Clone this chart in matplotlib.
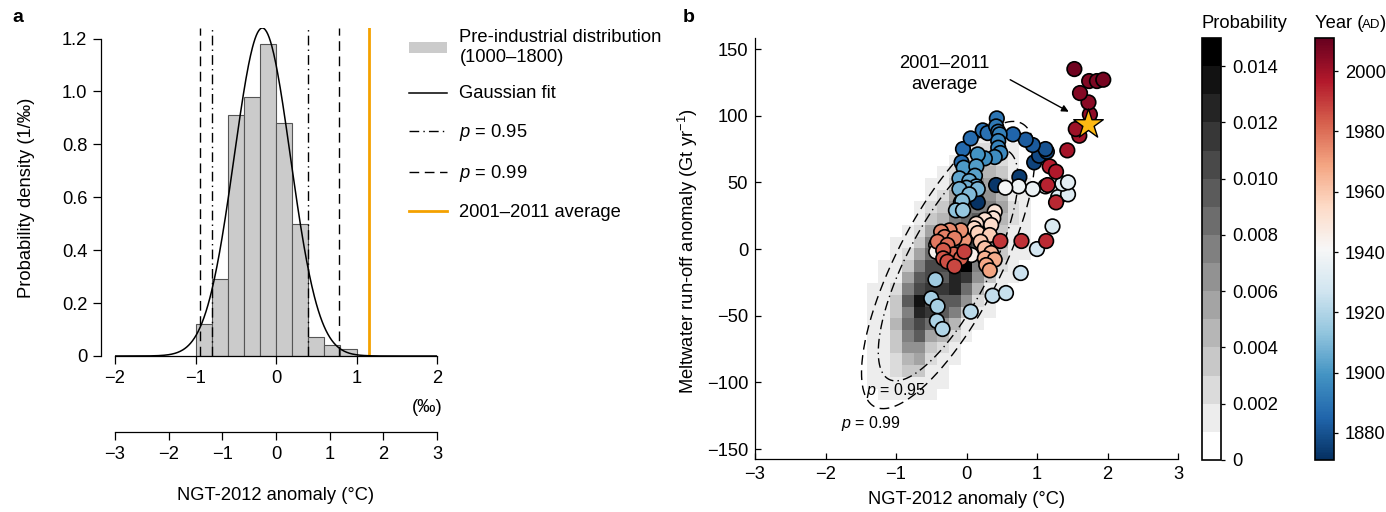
import numpy as np
import matplotlib.pyplot as plt
from matplotlib.colors import ListedColormap, BoundaryNorm, Normalize
from matplotlib.cm import ScalarMappable
from matplotlib.lines import Line2D
from matplotlib.patches import Patch

plt.rcParams['font.family'] = ['Liberation Sans', 'DejaVu Sans']
plt.rcParams['font.size'] = 13.2
plt.rcParams['mathtext.fontset'] = 'custom'
plt.rcParams['mathtext.rm'] = 'Liberation Sans'
plt.rcParams['mathtext.it'] = 'Liberation Sans:italic'
plt.rcParams['axes.linewidth'] = 0.9

# ---- panel a: pre-industrial distribution ----
hist_edges = [-1.0, -0.8, -0.6, -0.4, -0.2, 0.0, 0.2, 0.4, 0.6, 0.8, 1.0]
hist_density = [0.12, 0.29, 0.91, 0.98, 1.18, 0.88, 0.50, 0.07, 0.04, 0.025]
fit_peak, fit_mu, fit_sigma = 1.24, -0.17, 0.35
p95_lines = [-0.80, 0.40]
p99_lines = [-0.94, 0.78]
avg_2001_2011 = 1.15

# ---- panel b: NGT-2012 vs meltwater run-off ----
ngt = [0.16, 0.42, 0.75, 0.96, 1.03, 1.14, 1.12, 0.94, 0.84, 0.66,
       -0.05, -0.07, 0.06, 0.23, 0.30, 0.43, 0.42, 0.45, 0.47, 0.45,
       0.45, 0.48, 0.40, 0.26, 0.16, -0.04, 0.14, 0.12, -0.10, 0.04,
       0.14, 0.00, -0.10, 0.16, 0.04, -0.08, -0.06, -0.15, -0.05,
       -0.44, -0.50, -0.41, -0.42, -0.34, 0.06, 0.37, 0.56, 0.77, 1.00,
       1.22, 1.30, 1.44, 1.36, 1.44, 1.12, 0.94, 0.74, 0.55,
       -0.43, -0.43, 0.07, 0.02,
       0.40, 0.38, 0.26, 0.14, 0.35, 0.11, 0.16, 0.33, 0.20, 0.26,
       0.35, 0.26, 0.40, 0.28, 0.33,
       -0.03, -0.08, -0.24, -0.36, -0.31, -0.17, -0.41, -0.27, -0.18, -0.08,
       -0.33, -0.33, -0.27, -0.17, -0.03,
       0.48, 0.78, 1.13, 1.27, 1.15, 1.18, 1.27, 1.43,
       1.60, 1.55, 1.75, 1.73, 1.61, 1.74, 1.85, 1.94, 1.53]
runoff = [35, 48, 54, 65, 70, 73, 75, 78, 82, 86,
          75, 65, 83, 89, 87, 98, 92, 88, 86, 81,
          76, 72, 69, 68, 71, 61, 62, 55, 53, 51,
          47, 46, 45, 45, 41, 35, 36, 29, 29,
          -23, -37, -43, -54, -60, -47, -35, -33, -18, 0,
          17, 39, 41, 49, 50, 47, 45, 47, 46,
          3, -2, -4.5, 12,
          28, 23, 22, 19, 18, 15.5, 12, 10.5, 5.5, 0.5,
          -3, -7, -8, -12, -16,
          7, 14, 14, 13, 9, 8, 5.5, 3, -4, -7,
          -1, -7, -9.5, -13, -2,
          6, 6, 6, 35, 48, 62, 58, 74,
          85, 90, 101, 110, 117, 126, 126, 127, 135]
year = [1872, 1873, 1874, 1876, 1878, 1879, 1880, 1882, 1883, 1885,
        1886, 1886, 1887, 1888, 1889, 1890, 1891, 1892, 1893, 1894,
        1895, 1896, 1897, 1898, 1899, 1901, 1902, 1903, 1904, 1905,
        1906, 1907, 1908, 1909, 1910, 1911, 1912, 1913, 1914,
        1916, 1917, 1918, 1919, 1920, 1922, 1924, 1925, 1926, 1928,
        1930, 1931, 1932, 1933, 1934, 1936, 1937, 1938, 1940,
        1943, 1944, 1945, 1946,
        1950, 1951, 1952, 1953, 1954, 1955, 1957, 1958, 1960, 1962,
        1964, 1966, 1967, 1968, 1969,
        1972, 1973, 1974, 1975, 1976, 1977, 1978, 1980, 1982, 1983,
        1984, 1985, 1986, 1988, 1989,
        1991, 1992, 1993, 1994, 1995, 1996, 1997, 1999,
        2000, 2001, 2003, 2004, 2005, 2006, 2007, 2008, 2009]
star_ngt, star_runoff = 1.72, 94

# probability grid, grey level (0-14, x0.001) per cell, top row first
prob_rows = ["000000000000000",
             "000000000111000",
             "000000001221100",
             "000000012332100",
             "000000123443100",
             "000001135654110",
             "000001256864110",
             "000012368775210",
             "000013478984210",
             "00012579aa73110",
             "0011378aba74110",
             "0012589ac953110",
             "01137aabe742100",
             "01159a9cb631100",
             "1127abbc8411000",
             "1139da996210000",
             "1137cb973110000",
             "1148a8641100000",
             "113795421000000",
             "113663210000000",
             "112452110000000",
             "112331100000000",
             "111111100000000",
             "011111000000000"]
prob_x_edges = np.arange(-8.5, 7.0, 1.0) / 6
prob_y_edges = -113.4 + 8.77 * np.arange(25)

ell_center = (-0.26, -12.0)
ell_sd = (0.405, 35.5)
ell_rho = 0.75

fig = plt.figure(figsize=(13.86, 5.12), dpi=100)
W, H = 1386, 512

def box(x0, y0, x1, y1):
    return [x0 / W, 1 - y1 / H, (x1 - x0) / W, (y1 - y0) / H]

# ================= panel a =================
ax = fig.add_axes(box(115, 28, 437, 356))
ax.bar(hist_edges[:-1], hist_density, width=np.diff(hist_edges), align='edge',
       color='#cbcbcb', edgecolor='#555555', linewidth=0.8, zorder=1)
xs = np.linspace(-2, 2, 500)
ax.plot(xs, fit_peak * np.exp(-(xs - fit_mu) ** 2 / (2 * fit_sigma ** 2)),
        color='black', lw=1.1, zorder=3)
dashdot = (0, (7, 3, 1, 3))
dashed = (0, (7, 4))
for v in p95_lines:
    ax.axvline(v, color='black', lw=1, ls=dashdot, zorder=2)
for v in p99_lines:
    ax.axvline(v, color='black', lw=1, ls=dashed, zorder=2)
ax.axvline(avg_2001_2011, color='#f4a100', lw=2, zorder=2)
ax.set_xlim(-2, 2)
ax.set_ylim(0, 1.24)
for s in ['top', 'right']:
    ax.spines[s].set_visible(False)
ax.spines['left'].set_position(('outward', 10))
ax.spines['left'].set_bounds(0, 1.2)
ax.set_yticks([0, 0.2, 0.4, 0.6, 0.8, 1.0, 1.2])
ax.set_yticklabels(['0', '0.2', '0.4', '0.6', '0.8', '1.0', '1.2'])
ax.set_xticks([-2, -1, 0, 1, 2])
ax.tick_params(direction='out', length=6, width=0.9, pad=4)
ax.text(0.969, -0.158, '(‰)', transform=ax.transAxes, ha='center', va='center')

sec = ax.secondary_xaxis(-76 / 328, functions=(lambda x: 1.5 * x, lambda x: x / 1.5))
sec.set_xticks([-3, -2, -1, 0, 1, 2, 3])
sec.tick_params(direction='out', length=6, width=0.9, pad=4)
sec.spines['bottom'].set_linewidth(0.9)

fig.text(276 / W, 1 - 495 / H, 'NGT-2012 anomaly (°C)', ha='center', va='center')
fig.text(27 / W, 1 - 198 / H, 'Probability density (1/‰)', rotation=90,
         ha='center', va='center')
fig.text(12 / W, 1 - 18 / H, 'a', fontweight='bold', fontsize=14, va='center')

handles = [Patch(facecolor='#cbcbcb', edgecolor='none'),
           Line2D([], [], color='black', lw=1.1),
           Line2D([], [], color='black', lw=1, ls=dashdot),
           Line2D([], [], color='black', lw=1, ls=dashed),
           Line2D([], [], color='#f4a100', lw=2)]
labels = ['Pre-industrial distribution\n(1000–1800)', 'Gaussian fit',
          '$p$ = 0.95', '$p$ = 0.99', '2001–2011 average']
fig.legend(handles, labels, loc='upper left', bbox_to_anchor=(409 / W, 1 - 29 / H),
           frameon=False, handlelength=2.05, handleheight=0.5, handletextpad=0.7,
           labelspacing=1.08, borderaxespad=0, borderpad=0)

# ================= panel b =================
bx = fig.add_axes(box(755, 38, 1178, 459))
grey_cmap = ListedColormap([str(1 - k / 14) for k in range(15)])
grey_norm = BoundaryNorm(np.linspace(0, 0.015, 16), 15)
levels = np.array([[int(c, 16) for c in row] for row in prob_rows[::-1]])
bx.pcolormesh(prob_x_edges, prob_y_edges, (levels + 0.5) * 0.001,
              cmap=grey_cmap, norm=grey_norm, zorder=0)

t = np.linspace(0, 2 * np.pi, 400)
for p, ls in [(0.95, dashdot), (0.99, dashed)]:
    r = np.sqrt(-2 * np.log(1 - p))
    ex = ell_center[0] + r * ell_sd[0] * np.cos(t)
    ey = ell_center[1] + r * ell_sd[1] * (ell_rho * np.cos(t) + np.sqrt(1 - ell_rho ** 2) * np.sin(t))
    bx.plot(ex, ey, color='black', lw=1, ls=ls, zorder=1)
bx.text(-1.0, -106, '$p$ = 0.95', ha='center', va='center', fontsize=11.5)
bx.text(-1.35, -131, '$p$ = 0.99', ha='center', va='center', fontsize=11.5)

order = np.argsort(year, kind='stable')
year_norm = Normalize(1871, 2011)
bx.scatter(np.array(ngt)[order], np.array(runoff)[order], c=np.array(year)[order],
           cmap='RdBu_r', norm=year_norm, s=110, edgecolors='black',
           linewidths=1.2, zorder=3)
bx.scatter([star_ngt], [star_runoff], marker='*', s=500, color='#fdb913',
           edgecolors='black', linewidths=1, zorder=4)
bx.text(-0.31, 131, '2001–2011\naverage', ha='center', va='center', linespacing=1.3)
bx.annotate('', xy=(1.45, 103), xytext=(0.62, 127),
            arrowprops=dict(arrowstyle='-|>', color='black', lw=1, mutation_scale=10,
                            shrinkA=0, shrinkB=0))

bx.set_xlim(-3, 3)
bx.set_ylim(-157.5, 158.3)
for s in ['top', 'right']:
    bx.spines[s].set_visible(False)
bx.set_xticks([-3, -2, -1, 0, 1, 2, 3])
bx.set_yticks([-150, -100, -50, 0, 50, 100, 150])
bx.tick_params(direction='in', length=4, width=0.9, pad=5)
fig.text(967 / W, 1 - 500 / H, 'NGT-2012 anomaly (°C)', ha='center', va='center')
fig.text(688 / W, 1 - 251 / H, 'Meltwater run-off anomaly (Gt yr$^{-1}$)', rotation=90,
         ha='center', va='center')
fig.text(683 / W, 1 - 18 / H, 'b', fontweight='bold', fontsize=14, va='center')

# ================= colour bars =================
cax_p = fig.add_axes(box(1202, 38, 1221, 460))
cb_p = fig.colorbar(ScalarMappable(grey_norm, grey_cmap), cax=cax_p,
                    ticks=[0, 0.002, 0.004, 0.006, 0.008, 0.010, 0.012, 0.014])
cb_p.ax.set_yticklabels(['0', '0.002', '0.004', '0.006', '0.008', '0.010', '0.012', '0.014'])
cb_p.ax.minorticks_off()
cb_p.ax.tick_params(direction='out', length=3, width=0.9, pad=5)
cb_p.outline.set_linewidth(1.2)
fig.text(1244 / W, 1 - 24 / H, 'Probability', ha='center', va='center')

cax_y = fig.add_axes(box(1315, 38, 1334, 460))
cb_y = fig.colorbar(ScalarMappable(year_norm, 'RdBu_r'), cax=cax_y,
                    ticks=[1880, 1900, 1920, 1940, 1960, 1980, 2000])
cb_y.ax.minorticks_off()
cb_y.ax.tick_params(direction='out', length=3, width=0.9, pad=5)
cb_y.outline.set_linewidth(1.2)
fig.text(1315 / W, 1 - 24 / H, 'Year (', ha='left', va='center')
fig.text(1362 / W, 1 - 25 / H, 'AD', ha='left', va='center', fontsize=9.5)
fig.text(1380 / W, 1 - 24 / H, ')', ha='left', va='center')

fig.savefig('out.png', dpi=100)
